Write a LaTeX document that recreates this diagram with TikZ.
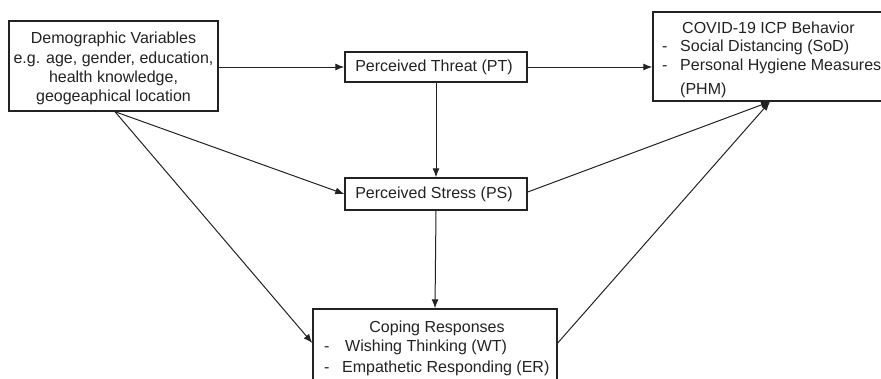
\documentclass[tikz,border=0pt]{standalone}
\usepackage{fontspec}
\setmainfont{Liberation Sans}
\usetikzlibrary{arrows.meta,calc}
\definecolor{ink}{HTML}{222222}
\tikzset{
  box/.style={draw=ink,line width=1.4pt,inner sep=0pt,minimum width=#1},
  lbl/.style={inner sep=0pt,text=ink,font=\fontsize{16}{19.3}\selectfont},
  conn/.style={draw=ink,line width=1pt,-{Latex[length=9pt,width=7pt]}},
}
\begin{document}
\begin{tikzpicture}[x=1pt,y=-1pt]
\useasboundingbox (0,0) rectangle (881,378);
\clip (0,0) rectangle (881,378);
% boxes
\node[box=209pt,minimum height=90pt] (demo) at (113.5,66) {};
\node[box=182pt,minimum height=30pt] (pt) at (436,67) {};
\node[box=182pt,minimum height=32pt] (ps) at (436,194) {};
\node[box=234pt,minimum height=89pt] (covid) at (770,56.5) {};
\node[box=244pt,minimum height=82pt] (coping) at (435,350) {};
% texts
\node[lbl,anchor=base] (d1) at (113.5,43) {Demographic Variables};
\node[lbl,anchor=base] (d2) at (113.5,63) {e.g. age, gender, education,};
\node[lbl,anchor=base] (d3) at (113.5,82.5) {health knowledge,};
\node[lbl,anchor=base] (d4) at (113.5,101.5) {geogeaphical location};
\node[lbl] (ptt) at (434,67) {Perceived Threat (PT)};
\node[lbl] (pst) at (434,194) {Perceived Stress (PS)};
\node[lbl,anchor=base west] (c1) at (682,33) {COVID-19 ICP Behavior};
\node[lbl,anchor=base west] (cd1) at (662,51) {-};
\node[lbl,anchor=base west] (c2) at (680,51) {Social Distancing (SoD)};
\node[lbl,anchor=base west] (cd2) at (662,70) {-};
\node[lbl,anchor=base west] (c3) at (680,70) {Personal Hygiene Measures};
\node[lbl,anchor=base west] (c4) at (680,94) {(PHM)};
\node[lbl,anchor=base] (k1) at (437,332) {Coping Responses};
\node[lbl,anchor=base west] (kd1) at (324,351.5) {-};
\node[lbl,anchor=base west] (k2) at (345,351.5) {Wishing Thinking (WT)};
\node[lbl,anchor=base west] (kd2) at (324,372) {-};
\node[lbl,anchor=base west] (k3) at (342,372) {Empathetic Responding (ER)};
% anchor points
\coordinate (dsrc) at ($(demo.south)+(1.5,0)$);
\coordinate (crow) at (0,343);
\coordinate (kin) at (coping.west |- crow);
\coordinate (kout) at (coping.east |- crow);
\coordinate (psout) at ($(ps.east)+(0,-2)$);
% connectors
\draw[conn] (demo.east |- pt.west) -- (pt.west);
\draw[conn] (pt.east) -- (pt.east -| covid.west);
\draw[conn] (pt.south) -- (ps.north);
\draw[conn] (ps.south) -- (coping.north);
\draw[conn] (dsrc) -- (ps.west);
\draw[conn] (dsrc) -- (kin);
\draw[conn] (psout) -- (covid.south);
\draw[conn] (kout) -- (covid.south);
\end{tikzpicture}
\end{document}
